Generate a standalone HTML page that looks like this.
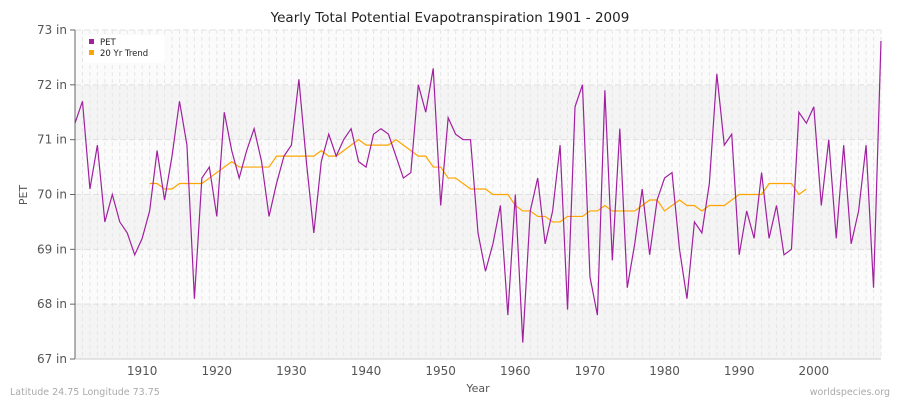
<!DOCTYPE html>
<html><head><meta charset="utf-8"><style>
body{margin:0;background:#fff;font-family:"Liberation Sans",sans-serif}
svg text{font-family:"DejaVu Sans","Liberation Sans",sans-serif}
</style></head><body>
<svg id="c" width="900" height="400" xmlns="http://www.w3.org/2000/svg">
<rect width="900" height="400" fill="#fff"/>
<text x="450" y="22" text-anchor="middle" font-size="13.5" fill="#222">Yearly Total Potential Evapotranspiration 1901 - 2009</text>
<g id="bands"></g><g id="grid"></g><g id="axes"></g><g id="series"></g>
<text x="27" y="195" text-anchor="middle" font-size="11" fill="#555" transform="rotate(-90 27 195)">PET</text>
<text x="478" y="392" text-anchor="middle" font-size="11" fill="#555">Year</text>
<text x="10" y="395" font-size="9.5" fill="#aaa">Latitude 24.75 Longitude 73.75</text>
<text x="890" y="395" text-anchor="end" font-size="9.5" fill="#aaa">worldspecies.org</text>
<g>
<rect x="83" y="35" width="82" height="28" rx="3" fill="#fff" opacity="0.9"/>
<rect x="89" y="39" width="5" height="5" fill="#a020a0"/>
<text x="100" y="45" font-size="8.5" fill="#222">PET</text>
<rect x="89" y="50" width="5" height="5" fill="#ffa500"/>
<text x="100" y="56" font-size="8.5" fill="#222">20 Yr Trend</text>
</g>
</svg>
<script>
const startYear=1901;
const petValues=[71.3,71.7,70.1,70.9,69.5,70.0,69.5,69.3,68.9,69.2,
69.7,70.8,69.9,70.7,71.7,70.9,68.1,70.3,70.5,69.6,
71.5,70.8,70.3,70.8,71.2,70.6,69.6,70.2,70.7,70.9,
72.1,70.6,69.3,70.6,71.1,70.7,71.0,71.2,70.6,70.5,
71.1,71.2,71.1,70.7,70.3,70.4,72.0,71.5,72.3,69.8,
71.4,71.1,71.0,71.0,69.3,68.6,69.1,69.8,67.8,70.0,
67.3,69.7,70.3,69.1,69.7,70.9,67.9,71.6,72.0,68.5,
67.8,71.9,68.8,71.2,68.3,69.1,70.1,68.9,69.9,70.3,
70.4,69.0,68.1,69.5,69.3,70.2,72.2,70.9,71.1,68.9,
69.7,69.2,70.4,69.2,69.8,68.9,69.0,71.5,71.3,71.6,
69.8,71.0,69.2,70.9,69.1,69.7,70.9,68.3,72.8];
const trendStart=1911;
const trendValues=[70.2,70.2,70.1,70.1,70.2,70.2,70.2,70.2,70.3,70.4,
70.5,70.6,70.5,70.5,70.5,70.5,70.5,70.7,70.7,70.7,
70.7,70.7,70.7,70.8,70.7,70.7,70.8,70.9,71.0,70.9,
70.9,70.9,70.9,71.0,70.9,70.8,70.7,70.7,70.5,70.5,
70.3,70.3,70.2,70.1,70.1,70.1,70.0,70.0,70.0,69.8,
69.7,69.7,69.6,69.6,69.5,69.5,69.6,69.6,69.6,69.7,
69.7,69.8,69.7,69.7,69.7,69.7,69.8,69.9,69.9,69.7,
69.8,69.9,69.8,69.8,69.7,69.8,69.8,69.8,69.9,70.0,
70.0,70.0,70.0,70.2,70.2,70.2,70.2,70.0,70.1];
const yTicks=[67,68,69,70,71,72,73];
const xTicks=[1910,1920,1930,1940,1950,1960,1970,1980,1990,2000];
const X0=75,X1=881,Y0=30,Y1=359,xMin=1901,xMax=2009,yMin=67,yMax=73;
const xs=v=>X0+(v-xMin)/(xMax-xMin)*(X1-X0);
const ys=v=>Y1-(v-yMin)/(yMax-yMin)*(Y1-Y0);
const NS="http://www.w3.org/2000/svg";
function mk(tag,attrs,parent){const e=document.createElementNS(NS,tag);for(const k in attrs)e.setAttribute(k,attrs[k]);document.getElementById(parent).appendChild(e);return e;}
for(let i=0;i<yTicks.length-1;i++){
 const r=mk('rect',{x:X0,y:ys(yTicks[i+1]),width:X1-X0,height:ys(yTicks[i])-ys(yTicks[i+1]),fill:(i%2==0)?'#f4f4f4':'#fbfbfb'},'bands');
 
 
}
for(let yr=xMin;yr<=xMax;yr++){
 const l=mk('line',{x1:xs(yr),x2:xs(yr),y1:Y0,y2:Y1,stroke:'#e6e6e6','stroke-dasharray':'4,3','stroke-width':1},'grid');
 
 
}
yTicks.forEach(t=>{
 const l=mk('line',{x1:X0,x2:X1,y1:ys(t),y2:ys(t),stroke:'#e0e0e0','stroke-dasharray':'6,3'},'grid');
 
 
 const tk=mk('line',{x1:X0-5,x2:X0,y1:ys(t),y2:ys(t),stroke:'#666'},'axes');
 
 
 const tx=mk('text',{x:X0-8,y:ys(t)+4,'text-anchor':'end','font-size':12,fill:'#555'},'axes');
 tx.textContent=t+' in';
 
 
});
xTicks.forEach(t=>{
 const tx=mk('text',{x:xs(t),y:375,'text-anchor':'middle','font-size':12,fill:'#555'},'axes');
 tx.textContent=t;
 
 
});
const ax=mk('line',{x1:X0,x2:X0,y1:Y0,y2:Y1,stroke:'#666'},'axes');


const ax2=mk('line',{x1:X0,x2:X1,y1:Y1,y2:Y1,stroke:'#ccc'},'axes');


const tp=mk('polyline',{points:trendValues.map((v,i)=>xs(trendStart+i)+','+ys(v)).join(' '),fill:'none',stroke:'#ffa500','stroke-width':1.2},'series');


const pp=mk('polyline',{points:petValues.map((v,i)=>xs(startYear+i)+','+ys(v)).join(' '),fill:'none',stroke:'#a020a0','stroke-width':1.2},'series');


</script>
</body></html>
